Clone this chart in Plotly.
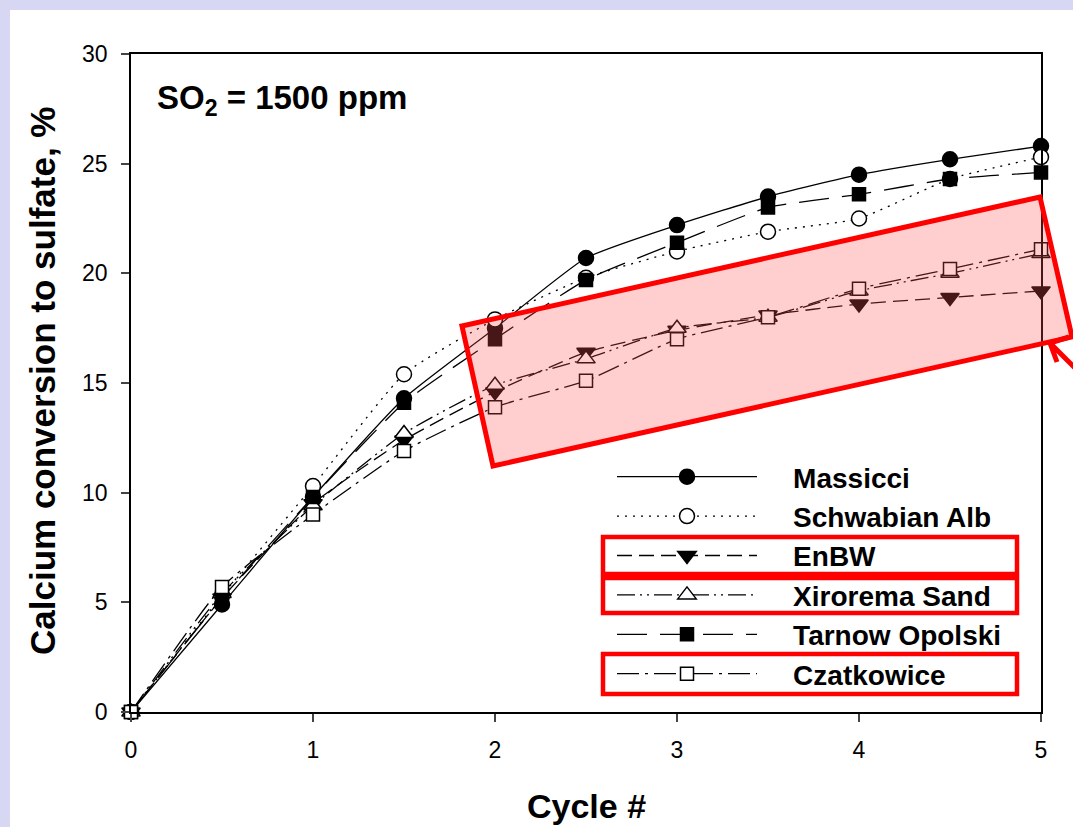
import plotly.graph_objects as go

cycles = [0, 0.5, 1, 1.5, 2, 2.5, 3, 3.5, 4, 4.5, 5]
massicci = [0, 4.9, 9.8, 14.3, 17.5, 20.7, 22.2, 23.5, 24.5, 25.2, 25.8]
schwabian = [0, 5.3, 10.3, 15.4, 17.9, 19.8, 21.0, 21.9, 22.5, 24.3, 25.3]
enbw = [0, 5.2, 9.5, 12.4, 14.6, 16.4, 17.4, 18.1, 18.6, 18.9, 19.2]
xirorema = [0, 5.4, 9.4, 12.7, 14.9, 16.1, 17.5, 18.0, 19.2, 20.0, 20.9]
tarnow = [0, 5.2, 9.8, 14.1, 17.0, 19.7, 21.4, 23.0, 23.6, 24.3, 24.6]
czatkowice = [0, 5.7, 9.0, 11.9, 13.9, 15.1, 17.0, 18.0, 19.3, 20.2, 21.1]

series_names = ["Massicci", "Schwabian Alb", "EnBW", "Xirorema Sand", "Tarnow Opolski", "Czatkowice"]

x_ticks = [0, 1, 2, 3, 4, 5]
y_ticks = [0, 5, 10, 15, 20, 25, 30]

W, H = 1073, 827
ML, MR, MT, MB = 131, 32, 54, 115
PW, PH = W - ML - MR, H - MT - MB


def px(xp, yp):
    return (xp - ML) / PW, (H - MB - yp) / PH


FONT = "Arial, Liberation Sans, Helvetica, sans-serif"
GAP = "\u00a0" * 4

styles = [
    (massicci, "solid", "circle", "black", 15),
    (schwabian, "2px,6px", "circle", "white", 15),
    (enbw, "15px,7px", "triangle-down", "black", 16),
    (xirorema, "18px,5px,2px,5px,2px,5px", "triangle-up", "white", 16),
    (tarnow, "30px,13px", "square", "black", 13),
    (czatkowice, "22px,6px,3px,6px", "square", "white", 13),
]

fig = go.Figure()
for name, (vals, dash, sym, fill, size) in zip(series_names, styles):
    fig.add_trace(go.Scatter(
        x=cycles, y=vals, name=GAP + name, mode="lines+markers",
        line=dict(color="black", width=1.3, dash=dash, shape="spline", smoothing=0.5),
        marker=dict(symbol=sym, color=fill, size=size, line=dict(color="black", width=1.5)),
        cliponaxis=False,
    ))

shapes = []
# white panel over lavender background
x0, y0 = px(10, 10)
x1, y1 = px(W + 20, H + 20)
shapes.append(dict(type="rect", xref="paper", yref="paper", x0=x0, y0=y1, x1=x1, y1=y0,
                   fillcolor="white", line=dict(width=0), layer="below"))

# tilted highlight rectangle
corners = [(462, 326), (1040, 197), (1072, 337), (493, 466)]
pts = [px(a, b) for a, b in corners]
path = "M " + " L ".join(f"{a:.4f},{b:.4f}" for a, b in pts) + " Z"
shapes.append(dict(type="path", xref="paper", yref="paper", path=path,
                   fillcolor="rgba(255,80,80,0.28)", line=dict(color="#ff0000", width=5),
                   layer="above"))

# arrow
tip = px(1050, 343)
arm1 = px(1069, 337)
arm2 = px(1057, 362)
tail = px(1100, 393)
apath = (f"M {tail[0]:.4f},{tail[1]:.4f} L {tip[0]:.4f},{tip[1]:.4f} "
         f"M {arm1[0]:.4f},{arm1[1]:.4f} L {tip[0]:.4f},{tip[1]:.4f} L {arm2[0]:.4f},{arm2[1]:.4f}")
shapes.append(dict(type="path", xref="paper", yref="paper", path=apath,
                   line=dict(color="#ff0000", width=5), layer="above"))

# legend highlight boxes
for (bx0, by0, bx1, by1) in [(603, 537, 1017, 574), (603, 578, 1017, 613), (603, 654, 1017, 694)]:
    a0, b0 = px(bx0, by0)
    a1, b1 = px(bx1, by1)
    shapes.append(dict(type="rect", xref="paper", yref="paper", x0=a0, y0=b1, x1=a1, y1=b0,
                       line=dict(color="#ff0000", width=4.5), fillcolor="rgba(0,0,0,0)",
                       layer="above"))

lx, ly = px(612, 452)
sx, sy = px(155, 100)
tx, ty = px(586, 806)
yx, yy = px(42, 381)

fig.update_layout(
    width=W, height=H,
    margin=dict(l=ML, r=MR, t=MT, b=MB, pad=0),
    paper_bgcolor="#d7d7f4", plot_bgcolor="white",
    font=dict(family=FONT, color="black"),
    showlegend=True,
    legend=dict(x=lx, y=ly, xanchor="left", yanchor="top", bgcolor="rgba(0,0,0,0)",
                font=dict(size=28, family=FONT, weight="bold", color="black"),
                itemwidth=140, tracegroupgap=0, borderwidth=0),
    shapes=shapes,
    annotations=[
        dict(text="SO<sub>2</sub> = 1500 ppm", xref="paper", yref="paper", x=sx, y=sy,
             xanchor="left", yanchor="middle", showarrow=False,
             font=dict(size=33, family=FONT, weight="bold", color="black")),
        dict(text="Cycle #", xref="paper", yref="paper", x=tx, y=ty,
             xanchor="center", yanchor="middle", showarrow=False,
             font=dict(size=34, family=FONT, weight="bold", color="black")),
        dict(text="Calcium conversion to sulfate, %", xref="paper", yref="paper", x=yx, y=yy,
             xanchor="center", yanchor="middle", showarrow=False, textangle=-90,
             font=dict(size=35, family=FONT, weight="bold", color="black")),
    ],
    xaxis=dict(range=[0, 5], tickvals=x_ticks, ticks="outside", ticklen=8, tickwidth=1.5,
               showline=True, linecolor="black", linewidth=1.8, mirror=True, showgrid=False,
               zeroline=False, ticklabelstandoff=8,
               tickfont=dict(size=23, family=FONT, color="black")),
    yaxis=dict(range=[0, 30], tickvals=y_ticks, ticks="outside", ticklen=8, tickwidth=1.5,
               showline=True, linecolor="black", linewidth=1.8, mirror=True, showgrid=False,
               zeroline=False, ticklabelstandoff=9,
               tickfont=dict(size=23, family=FONT, color="black")),
)

fig.write_html("out.html")
